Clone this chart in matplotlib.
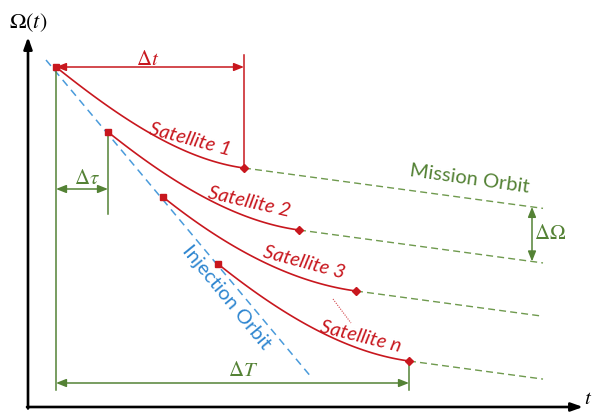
import numpy as np
import matplotlib
matplotlib.use("Agg")
import matplotlib.pyplot as plt

plt.rcParams["mathtext.fontset"] = "stix"
plt.rcParams["font.family"] = ["Lato", "DejaVu Sans"]

# ---- schematic data (time t, RAAN Omega in arbitrary units) ----
sat_labels = ["Satellite 1", "Satellite 2", "Satellite 3", "Satellite n"]
t_start = [28, 80, 135, 190]          # release from injection orbit
omega_start = [340, 275, 210, 143]
t_end = [216, 271, 328, 381]          # arrival on mission orbit
omega_end = [239, 177, 116, 46]
t_mission_end = 515
mission_drift = -0.135                # dOmega/dt on the mission orbit
transfer_drift0 = -0.8                # dOmega/dt right after release
injection_t = [18, 284]
injection_omega = [347, 29]

RED = "#C8171E"
GREEN = "#548235"
BLUE = "#2E86D0"
BLUE_LINE = "#4A9BDB"

fig = plt.figure(figsize=(5.95, 4.12), dpi=100)
ax = fig.add_axes([0, 0, 1, 1])
ax.set_xlim(-28, 567)
ax.set_ylim(-5, 407)
ax.axis("off")


def hermite(t0, y0, t1, y1, m0, m1, n=120):
    s = np.linspace(0, 1, n)
    d = t1 - t0
    h00 = 2 * s**3 - 3 * s**2 + 1
    h10 = s**3 - 2 * s**2 + s
    h01 = -2 * s**3 + 3 * s**2
    h11 = s**3 - s**2
    return t0 + d * s, h00 * y0 + h10 * d * m0 + h01 * y1 + h11 * d * m1


def dim_arrow(p0, p1, color, lw=1.1):
    ax.annotate("", xy=p1, xytext=p0,
                arrowprops=dict(arrowstyle="<|-|>,head_length=0.6,head_width=0.24",
                                color=color, lw=lw, shrinkA=0, shrinkB=0))


# coordinate axes
ax.annotate("", xy=(0, 370), xytext=(0, -1.5),
            arrowprops=dict(arrowstyle="-|>,head_length=0.7,head_width=0.25",
                            color="black", lw=1.9, shrinkA=0, shrinkB=0))
ax.annotate("", xy=(555, 0), xytext=(-1, 0),
            arrowprops=dict(arrowstyle="-|>,head_length=0.7,head_width=0.25",
                            color="black", lw=1.9, shrinkA=0, shrinkB=0))
ax.text(0, 384, r"$\Omega(t)$", fontsize=16, ha="center", va="center")
ax.text(560, 9, r"$t$", fontsize=15, ha="center", va="center")

# injection orbit
ax.plot(injection_t, injection_omega, color=BLUE_LINE, lw=1.1,
        dashes=(5, 3.5), zorder=2)

# mission orbits
for te, oe in zip(t_end, omega_end):
    tt = np.array([te, t_mission_end])
    ax.plot(tt, oe + mission_drift * (tt - te), color="#6F9A4E", lw=1.0,
            dashes=(5, 3), zorder=2)

# transfer arcs
for ts, os_, te, oe in zip(t_start, omega_start, t_end, omega_end):
    x, y = hermite(ts, os_, te, oe, transfer_drift0, mission_drift)
    ax.plot(x, y, color=RED, lw=1.2, zorder=3)
    ax.plot(ts, os_, marker="s", ms=4.5, color=RED, zorder=4, mec=RED)
    ax.plot(te, oe, marker="D", ms=4, color=RED, zorder=4, mec=RED)

# labels of the arcs
label_pos = [(162, 267, -15), (221, 205, -13), (276, 144, -15), (333, 70, -14)]
for lab, (x, y, r) in zip(sat_labels, label_pos):
    ax.text(x, y, lab, color=RED, fontsize=14.5, style="italic",
            rotation=r, ha="center", va="center", rotation_mode="anchor")
ax.plot([305, 323], [108, 84], color=RED, lw=0.8, ls=(0, (1, 1.2)), alpha=0.8)

ax.text(198, 110, "Injection Orbit", color=BLUE, fontsize=14.5,
        rotation=-50.6, ha="center", va="center", rotation_mode="anchor")
ax.text(441, 228, "Mission Orbit", color=GREEN, fontsize=14.5,
        rotation=-8, ha="center", va="center", rotation_mode="anchor")

# delta t (transfer duration)
dim_arrow((t_start[0], omega_start[0]), (t_end[0], omega_start[0]), RED)
ax.plot([t_end[0], t_end[0]], [omega_start[0] + 12, omega_end[0]],
        color=RED, lw=1.1, zorder=3)
ax.text((t_start[0] + t_end[0]) / 2 - 2, 348, r"$\Delta t$", color=RED,
        fontsize=15, ha="center", va="center")

# delta tau (release spacing)
ax.plot([t_start[0], t_start[0]], [omega_start[0], 17], color=GREEN, lw=1.1, zorder=2)
ax.plot([t_start[1], t_start[1]], [omega_start[1], 193], color=GREEN, lw=1.1, zorder=2)
dim_arrow((t_start[0], 218), (t_start[1], 218), GREEN)
ax.text((t_start[0] + t_start[1]) / 2 + 5, 229, r"$\Delta\tau$", color=GREEN,
        fontsize=15, ha="center", va="center")

# delta T (total deployment time)
ax.plot([t_end[-1], t_end[-1]], [omega_end[-1], 17], color=GREEN, lw=1.1, zorder=2)
dim_arrow((t_start[0], 24), (t_end[-1], 24), GREEN)
ax.text(215, 37, r"$\Delta T$", color=GREEN, fontsize=15, ha="center", va="center")

# delta Omega (spacing between mission orbits)
t_dO = 504
o1 = omega_end[0] + mission_drift * (t_dO - t_end[0])
o2 = omega_end[1] + mission_drift * (t_dO - t_end[1])
dim_arrow((t_dO, o2), (t_dO, o1), GREEN)
ax.text(522, 174, r"$\Delta\Omega$", color=GREEN, fontsize=15, ha="center", va="center")

fig.savefig("out.png", dpi=100)
